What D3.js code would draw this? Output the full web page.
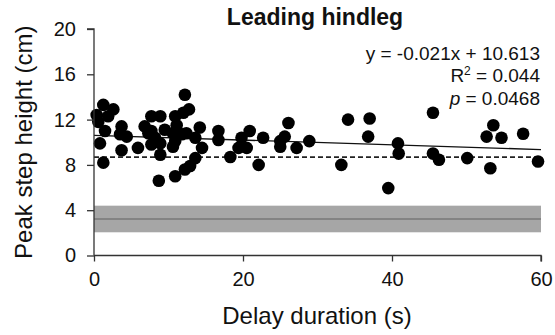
<!DOCTYPE html>
<html>
<head>
<meta charset="utf-8">
<script src="https://cdn.jsdelivr.net/npm/d3@7"></script>
<style>
  body { margin: 0; background: #fff; }
  text { font-family: "Liberation Sans", Arial, sans-serif; fill: #111; }
</style>
</head>
<body>
<svg id="chart" width="555" height="335"></svg>
<script>
// delay duration (s) for each step
const delay = [1.25, 2.6, 0.36, 0.58, 1.48, 0.8, 1.25, 1.9, 3.7, 3.5, 4.4, 3.7, 5.9, 6.8, 7.7, 8.9,
  7.3, 8.2, 7.7, 8.9, 8.9, 8.7, 9.5, 10.9, 12.0, 12.75, 12.2, 11.1, 10.6, 10.6, 11.8, 12.4,
  13.6, 14.2, 14.5, 13.6, 12.9, 12.2, 10.9, 16.7, 16.7, 18.3, 19.4, 19.8, 20.9, 20.5, 22.1,
  22.7, 25.0, 25.0, 25.6, 26.1, 27.2, 28.9, 33.2, 34.1, 37.0, 36.8, 39.5, 40.8, 40.9, 45.5,
  45.5, 46.3, 50.1, 53.2, 52.7, 53.6, 54.7, 57.6, 59.6, 7.7, 10.9];
// peak step height (cm)
const height = [13.3, 12.9, 12.4, 11.8, 11.0, 9.9, 8.2, 12.3, 11.4, 10.7, 10.5, 9.3, 9.5, 11.4, 12.3, 12.3,
  10.8, 10.4, 9.8, 9.9, 8.9, 6.6, 11.1, 12.3, 12.6, 12.9, 14.2, 11.5, 10.8, 9.6, 10.7, 10.8,
  10.4, 11.3, 9.5, 8.6, 7.9, 7.6, 7.0, 11.0, 10.2, 8.7, 9.5, 10.4, 11.0, 9.5, 8.0,
  10.4, 10.1, 9.6, 10.5, 11.7, 9.5, 10.1, 8.0, 12.0, 12.1, 10.5, 5.95, 9.9, 9.0, 12.6,
  9.0, 8.45, 8.6, 7.7, 10.5, 11.5, 10.4, 10.75, 8.3, 11.0, 10.1];

const fit = { slope: -0.021, intercept: 10.613 };
const baseline = 8.69;            // dashed reference
const band = { lo: 2.05, mean: 3.23, hi: 4.4 };
const xTicks = [0, 20, 40, 60];
const yTicks = [0, 4, 8, 12, 16, 20];
const statLines = ["y = -0.021x + 10.613", "R² = 0.044", "p = 0.0468"];

const svg = d3.select("#chart");
const margin = { top: 29, right: 14, bottom: 79.5, left: 94 };
const W = 555, H = 335;

const x = d3.scaleLinear().domain([0, 60]).range([margin.left, W - margin.right]);
const y = d3.scaleLinear().domain([0, 20]).range([H - margin.bottom, margin.top]);

// gray band
svg.append("rect")
  .attr("x", x(0)).attr("width", x(60) - x(0))
  .attr("y", y(band.hi)).attr("height", y(band.lo) - y(band.hi))
  .attr("fill", "#a6a6a6");
svg.append("line")
  .attr("x1", x(0)).attr("x2", x(60))
  .attr("y1", y(band.mean)).attr("y2", y(band.mean))
  .attr("stroke", "#777").attr("stroke-width", 1.5);

// dashed baseline
svg.append("line")
  .attr("x1", x(0)).attr("x2", x(60))
  .attr("y1", y(baseline)).attr("y2", y(baseline))
  .attr("stroke", "#222").attr("stroke-width", 1.6)
  .attr("stroke-dasharray", "5,3");

// regression line
svg.append("line")
  .attr("x1", x(0)).attr("x2", x(60))
  .attr("y1", y(fit.intercept)).attr("y2", y(fit.intercept + fit.slope * 60))
  .attr("stroke", "#111").attr("stroke-width", 1.3);

// points
svg.append("g").selectAll("circle")
  .data(delay.map((d, i) => [d, height[i]]))
  .join("circle")
  .attr("cx", d => x(d[0]))
  .attr("cy", d => y(d[1]))
  .attr("r", 6.3)
  .attr("fill", "#000");

// axes
const xAxis = svg.append("g")
  .attr("transform", `translate(0,${y(0)})`)
  .call(d3.axisBottom(x).tickValues(xTicks).tickSize(6).tickPadding(10));
const yAxis = svg.append("g")
  .attr("transform", `translate(${x(0)},0)`)
  .call(d3.axisLeft(y).tickValues(yTicks).tickSize(7).tickPadding(11));

[xAxis, yAxis].forEach(g => {
  g.select(".domain").attr("stroke", "#333").attr("stroke-width", 1.3);
  g.selectAll(".tick line").attr("stroke", "#333").attr("stroke-width", 1.3);
  g.selectAll(".tick text").attr("font-size", 20).attr("fill", "#111")
    .style("font-family", '"Liberation Sans", Arial, sans-serif');
});
yAxis.selectAll(".domain").attr("d", `M-7,${y(20)}H0V${y(0)}`);
xAxis.select(".domain").attr("d", `M${x(0)},0H${x(60)}V6`);

// labels
svg.append("text")
  .attr("x", 317).attr("y", 324)
  .attr("text-anchor", "middle").attr("font-size", 24)
  .text("Delay duration (s)");
svg.append("text")
  .attr("transform", `translate(32,${(y(0) + y(20)) / 2}) rotate(-90)`)
  .attr("text-anchor", "middle").attr("font-size", 24)
  .text("Peak step height (cm)");

svg.append("text")
  .attr("x", 315).attr("y", 25)
  .attr("text-anchor", "middle").attr("font-size", 23).attr("font-weight", "bold")
  .text("Leading hindleg");

// stats annotation
const stats = svg.append("g").attr("font-size", 19).attr("text-anchor", "end");
stats.append("text").attr("x", 540).attr("y", 60).text(statLines[0]);
stats.append("text").attr("x", 540).attr("y", 82)
  .html('R<tspan dy="-7" font-size="12">2</tspan><tspan dy="7"> = 0.044</tspan>');
stats.append("text").attr("x", 540).attr("y", 105)
  .html('<tspan font-style="italic">p</tspan> = 0.0468');
</script>
</body>
</html>
